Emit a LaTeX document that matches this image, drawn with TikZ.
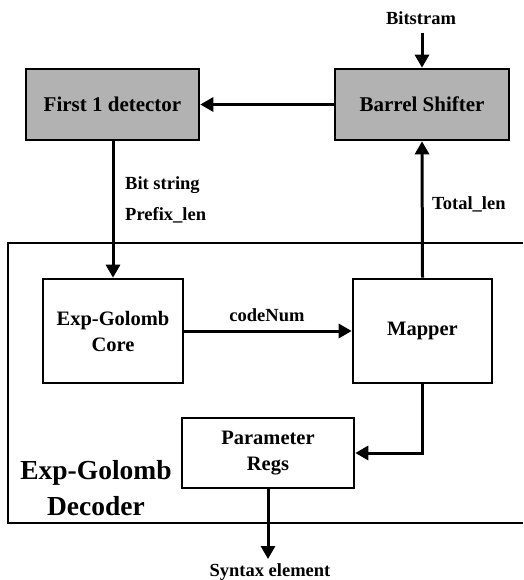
\documentclass[tikz,border=0pt]{standalone}
\usepackage{fontspec}
\setmainfont{Liberation Serif}
\usetikzlibrary{arrows.meta}
\tikzset{
  blk/.style={draw=black, line width=2.6pt, fill=white, align=center,
    font=\fontsize{20.5}{26}\selectfont\bfseries, inner sep=0pt},
  shaded/.style={blk, fill=black!30, font=\fontsize{21}{25}\selectfont\bfseries},
  flow/.style={line width=3pt, -{Triangle[length=13pt,width=14pt]}},
  lbl/.style={font=\fontsize{18.5}{22}\selectfont\bfseries, inner sep=0pt},
}
\begin{document}
\begin{tikzpicture}[x=1pt,y=-1pt]
\useasboundingbox (0,0) rectangle (523,580);

% decoder frame, open to the right
\draw[line width=2.2pt] (523,243) -- (8,243) -- (8,523) -- (523,523);
\node[font=\fontsize{27.5}{36}\selectfont\bfseries, align=center, inner sep=0pt]
  (declbl) at (96,488) {Exp-Golomb\\Decoder};

% blocks
\node[shaded, minimum width=173pt, minimum height=71pt] (det) at (112.5,104.5) {First 1 detector};
\node[shaded, minimum width=174pt, minimum height=71pt] (bs) at (422,104.5) {Barrel Shifter};
\node[blk, minimum width=140pt, minimum height=104pt] (core) at (113,331) {Exp-Golomb\\Core};
\node[blk, minimum width=139pt, minimum height=104pt] (map) at (422.5,331) {Mapper};
\node[blk, minimum width=172pt, minimum height=70pt] (regs) at (268,453) {Parameter\\Regs};

% free ends
\node[lbl] (bitin) at (421,18) {Bitstram};
\node[lbl] (syn) at (270,572) {Syntax element};
\coordinate (bitsrc) at (422,33);
\coordinate (synend) at (268,559);

% connectors
\draw[flow] (bitsrc) -- (bs.north);
\draw[flow] (bs.west) -- (det.east);
\draw[flow] (det.south -| core.north) -- (core.north);
\draw[flow] (core.east) -- (map.west);
\draw[flow] (map.north) -- (bs.south);
\draw[flow] (map.south) |- (regs.east);
\draw[flow] (regs.south) -- (synend);

% signal labels
\node[lbl, anchor=west] (bstr) at (125,185) {Bit string};
\node[lbl, anchor=west] (plen) at (125,215) {Prefix\_len};
\node[lbl, anchor=west] (tlen) at (432,204) {Total\_len};
\node[lbl] (cnum) at (267,315) {codeNum};
\end{tikzpicture}
\end{document}
